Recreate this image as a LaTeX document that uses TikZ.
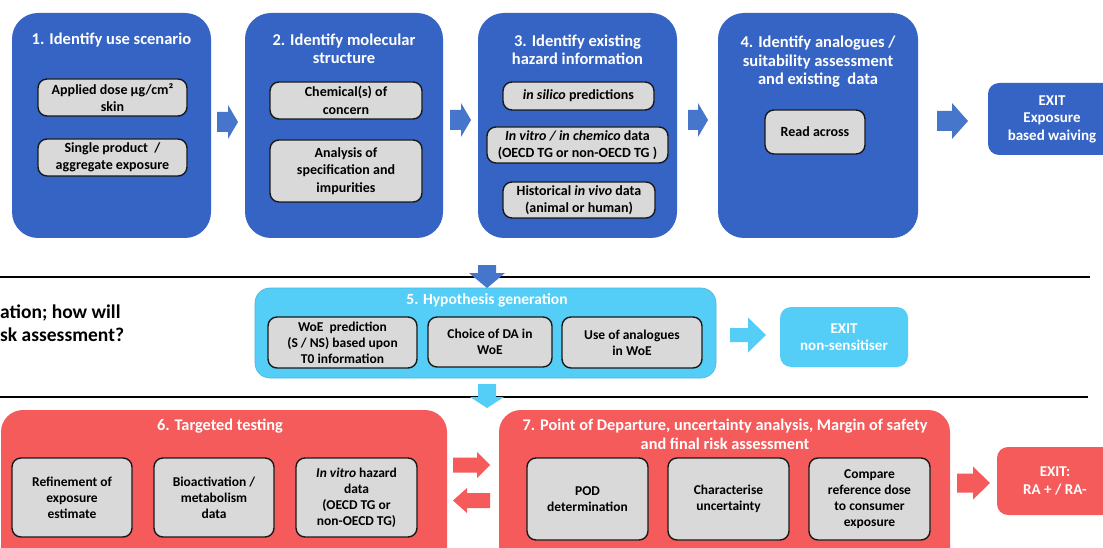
\documentclass[tikz,border=0pt]{standalone}
\usepackage{fontspec}
\setmainfont{Carlito}
\definecolor{tblue}{HTML}{3664C4}
\definecolor{ablue}{HTML}{4676CC}
\definecolor{lblue}{HTML}{55CEF7}
\definecolor{tred}{HTML}{F55B5B}
\definecolor{gfill}{HTML}{D9D9D9}
\newcommand\ftitle{\fontsize{16.5}{18.5}\selectfont\bfseries}
\newcommand\fmid{\fontsize{15.5}{18}\selectfont\bfseries}
\newcommand\fred{\fontsize{16.3}{18.5}\selectfont\bfseries}
\newcommand\finner{\fontsize{14}{17.5}\selectfont\bfseries}
\newcommand\flow{\fontsize{13.5}{16}\selectfont\bfseries}
\newcommand\fexit{\fontsize{15}{17.5}\selectfont\bfseries}
\newcommand\fside{\fontsize{19.5}{22}\selectfont\bfseries}
\tikzset{
  stage/.style={fill=tblue, rounded corners=26pt, inner sep=0pt},
  hypo/.style={fill=lblue, draw=lblue!80!black!60!lblue, line width=0.6pt, rounded corners=15pt, inner sep=0pt},
  redstage/.style={fill=tred, rounded corners=22pt, inner sep=0pt},
  exitbox/.style={rounded corners=11pt, inner sep=0pt, text=white, font=\fexit, align=center},
  gbox/.style={fill=gfill, draw=black!90, line width=1.4pt, rounded corners=9pt, inner sep=2pt, align=center, text=black},
  ttl/.style={text=white, align=center, inner sep=0pt},
  sep/.style={draw=black, line width=2pt},
}
\begin{document}
\begin{tikzpicture}[x=1pt,y=-1pt]
\useasboundingbox (0,0) rectangle (1103,548);
\clip (0,0) rectangle (1103,548);
\fill[white] (0,0) rectangle (1103,548);

% separator lines
\coordinate (l1a) at (0,277);
\coordinate (l1b) at (1090,277);
\coordinate (l2a) at (0,397);
\coordinate (l2b) at (1088,397);
\draw[sep] (l1a) -- (l1b);
\draw[sep] (l2a) -- (l2b);

% ---------- top row ----------
\node[stage, minimum width=199pt, minimum height=225pt] (s1) at (111.5,125.5) {};
\node[stage, minimum width=198pt, minimum height=225pt] (s2) at (344,125.5) {};
\node[stage, minimum width=199pt, minimum height=225pt] (s3) at (577.5,125.5) {};
\node[stage, minimum width=200pt, minimum height=225pt] (s4) at (818,125.5) {};
\node[stage, exitbox, fill=tblue, minimum width=128pt, minimum height=72pt] (ex1) at (1052,119) {EXIT\\Exposure\\based waiving};

\node[ttl, font=\ftitle] (t1) at (111.5,40) {1. Identify use scenario};
\node[ttl, font=\ftitle] (t2) at (344,49) {2. Identify molecular\\structure};
\node[ttl, font=\ftitle] (t3) at (577.5,50) {3. Identify existing\\hazard information};
\node[ttl, font=\ftitle] (t4) at (818,62) {4. Identify analogues /\\suitability assessment\\and existing\ \ data};

\node[gbox, font=\finner, minimum width=149pt, minimum height=37pt] (b1a) at (112.5,97.5) {Applied dose µg/cm²\\skin};
\node[gbox, font=\finner, minimum width=149pt, minimum height=37pt] (b1b) at (112.5,157.5) {Single product\ \ /\\aggregate exposure};
\node[gbox, font=\finner, minimum width=152pt, minimum height=37pt] (b2a) at (346,100.5) {Chemical(s) of\\concern};
\node[gbox, font=\finner, minimum width=152pt, minimum height=62pt] (b2b) at (346,171) {Analysis of\\specification and\\impurities};
\node[gbox, font=\finner, minimum width=151pt, minimum height=28pt] (b3a) at (578.5,96) {\textit{in silico} predictions};
\node[gbox, font=\finner, minimum width=181pt, minimum height=36pt, inner sep=1pt] (b3b) at (577.5,145) {\textit{In vitro / in chemico} data\\(OECD TG or non-OECD TG )};
\node[gbox, font=\finner, minimum width=152pt, minimum height=36pt] (b3c) at (579,200) {Historical \textit{in vivo} data\\(animal or human)};
\node[gbox, font=\finner, minimum width=100pt, minimum height=44pt] (b4a) at (815,132) {Read across};

% top arrows
\fill[ablue] (217,112) -- (228,112) -- (228,105) -- (238,122) -- (228,139) -- (228,132) -- (217,132) -- cycle;
\fill[ablue] (450,110) -- (461,110) -- (461,103) -- (471,120) -- (461,137) -- (461,130) -- (450,130) -- cycle;
\fill[ablue] (688,110) -- (698,110) -- (698,103) -- (708,120) -- (698,137) -- (698,130) -- (688,130) -- cycle;
\fill[ablue] (937,111) -- (952,111) -- (952,103) -- (968,121) -- (952,139) -- (952,131) -- (937,131) -- cycle;

% ---------- middle row ----------
\node[anchor=west, inner xsep=0pt, font=\fside, align=left] (side1) at (0,312.5) {ation; how will};
\node[anchor=west, inner xsep=0pt, font=\fside, align=left] (side2) at (0,334.5) {sk assessment?};

\node[hypo, minimum width=461pt, minimum height=90pt] (s5) at (485.5,333) {};
\node[ttl, font=\fmid] (t5) at (487,300) {5. Hypothesis generation};
\node[gbox, font=\flow, minimum width=149pt, minimum height=51pt] (b5a) at (342.5,342.5) {WoE\ \ prediction\\(S / NS) based upon\\T0 information};
\node[gbox, font=\flow, minimum width=124pt, minimum height=50pt] (b5b) at (490,342) {Choice of DA in\\WoE};
\node[gbox, font=\flow, minimum width=140pt, minimum height=51pt] (b5c) at (632,342.5) {Use of analogues\\in WoE};
\node[exitbox, fill=lblue, minimum width=128pt, minimum height=60pt] (ex2) at (844,337) {EXIT\\non-sensitiser};

\fill[ablue] (478,265) -- (496,265) -- (496,273) -- (505,273) -- (487,288) -- (469,273) -- (478,273) -- cycle;
\fill[lblue] (478,384) -- (496,384) -- (496,397) -- (504,397) -- (487,408) -- (470,397) -- (478,397) -- cycle;
\fill[lblue] (730,328) -- (748,328) -- (748,317.5) -- (766,335) -- (748,352.5) -- (748,342) -- (730,342) -- cycle;

% ---------- bottom row ----------
\node[redstage, minimum width=446pt, minimum height=160pt] (s6) at (224,490) {};
\node[redstage, minimum width=451pt, minimum height=160pt] (s7) at (724.5,490) {};
\node[exitbox, fill=tred, minimum width=116pt, minimum height=68pt] (ex3) at (1055,481) {EXIT:\\RA + / RA-};

\node[ttl, font=\fred] (t6) at (220,426) {6. Targeted testing};
\node[ttl, font=\fred] (t7) at (725,434.5) {7. Point of Departure, uncertainty analysis, Margin of safety\\and final risk assessment};

\node[gbox, font=\flow, minimum width=120pt, minimum height=79pt] (b6a) at (72,497.5) {Refinement of\\exposure\\estimate};
\node[gbox, font=\flow, minimum width=120pt, minimum height=79pt] (b6b) at (214,497.5) {Bioactivation /\\metabolism\\data};
\node[gbox, font=\flow, minimum width=121pt, minimum height=79pt] (b6c) at (356.5,497.5) {\textit{In vitro} hazard\\data\\(OECD TG or\\non-OECD TG)};
\node[gbox, font=\flow, minimum width=121pt, minimum height=82pt] (b7a) at (587.5,499) {POD\\determination};
\node[gbox, font=\flow, minimum width=121pt, minimum height=82pt] (b7b) at (728.5,499) {Characterise\\uncertainty};
\node[gbox, font=\flow, minimum width=121pt, minimum height=82pt] (b7c) at (869.5,499) {Compare\\reference dose\\to consumer\\exposure};

\fill[tred] (453,457.5) -- (477,457.5) -- (477,452) -- (490,465) -- (477,478) -- (477,472.5) -- (453,472.5) -- cycle;
\fill[tred] (490,493) -- (467,493) -- (467,488) -- (453,500.5) -- (467,513) -- (467,508) -- (490,508) -- cycle;
\fill[tred] (957,473.5) -- (973,473.5) -- (973,466.5) -- (990,483) -- (973,499.5) -- (973,492.5) -- (957,492.5) -- cycle;
\end{tikzpicture}
\end{document}
